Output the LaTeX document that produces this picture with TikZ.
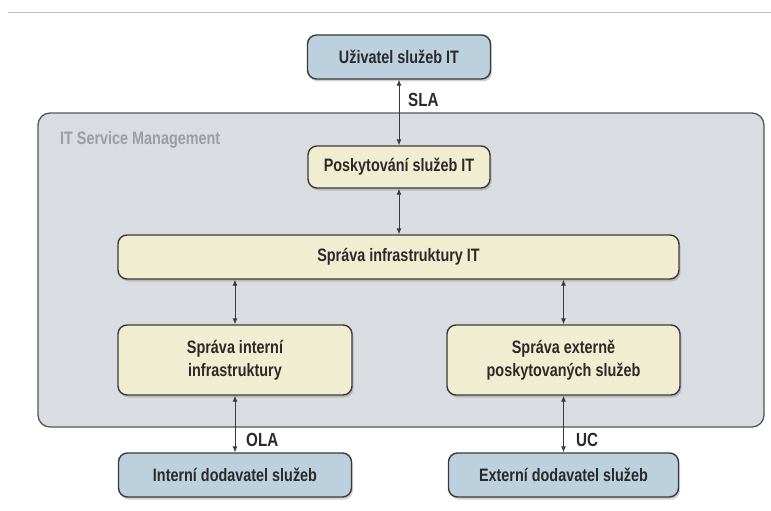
\documentclass[tikz,border=0pt]{standalone}
\usepackage{fontspec}
\setmainfont{Liberation Sans}[FakeStretch=0.8]
\usetikzlibrary{arrows.meta,shadows,calc}
\definecolor{panelfill}{HTML}{D9DCE1}
\definecolor{panelline}{HTML}{555555}
\definecolor{creamfill}{HTML}{F1EDD0}
\definecolor{bluefill}{HTML}{BCD0DD}
\definecolor{boxline}{HTML}{3A3A3A}
\definecolor{textc}{HTML}{2A2A2A}
\definecolor{titlec}{HTML}{9A9EA6}
\tikzset{
  box/.style={draw=boxline, line width=1.4pt, rounded corners=9pt, align=center,
    inner sep=0pt, text=textc, font=\bfseries\fontsize{18}{23}\selectfont,
    drop shadow={shadow xshift=1.5pt, shadow yshift=-2.5pt, opacity=0.35}},
  creambox/.style={box, fill=creamfill},
  bluebox/.style={box, fill=bluefill},
  link/.style={draw=boxline, line width=0.9pt, {Latex[length=6pt,width=5pt]}-{Latex[length=6pt,width=5pt]}},
  lbl/.style={anchor=west, inner sep=0pt, text=textc, font=\bfseries\fontsize{19}{21}\selectfont}
}
\begin{document}
\begin{tikzpicture}[x=1pt,y=-1pt]
\useasboundingbox (0,0) rectangle (771,511);
\fill[white] (0,0) rectangle (771,511);
\draw[color=black!25, line width=0.8pt] (8,12) -- (771,12);
% panel
\draw[fill=panelfill, draw=panelline, line width=1.3pt, rounded corners=12pt] (38,113) rectangle (764,427);
\node[anchor=west, inner sep=0pt, text=titlec, font=\bfseries\fontsize{18}{20}\selectfont] (title) at (60,140) {IT Service Management};
% nodes
\node[bluebox, minimum width=183pt, minimum height=44pt] (user) at (399,57) {Uživatel služeb IT};
\node[creambox, minimum width=182pt, minimum height=42pt] (posk) at (399,167) {Poskytování služeb IT};
\node[creambox, minimum width=561pt, minimum height=44pt] (infra) at (398.5,257) {Správa infrastruktury IT};
\node[creambox, minimum width=234pt, minimum height=70pt] (intl) at (235,360) {Správa interní\\infrastruktury};
\node[creambox, minimum width=233pt, minimum height=70pt] (extl) at (563.5,360) {Správa externě\\poskytovaných služeb};
\node[bluebox, minimum width=233pt, minimum height=44pt] (intd) at (235,475) {Interní dodavatel služeb};
\node[bluebox, minimum width=230pt, minimum height=44pt] (extd) at (563.5,475) {Externí dodavatel služeb};
% links
\draw[link] (user.south) -- (posk.north);
\draw[link] (posk.south) -- (posk.south |- infra.north);
\draw[link] (intl.north |- infra.south) -- (intl.north);
\draw[link] (extl.north |- infra.south) -- (extl.north);
\draw[link] (intl.south) -- (intl.south |- intd.north);
\draw[link] (extl.south) -- (extl.south |- extd.north);
% labels
\node[lbl] (sla) at (408,100) {SLA};
\node[lbl] (ola) at (246,440) {OLA};
\node[lbl] (uc) at (576,440) {UC};
\end{tikzpicture}
\end{document}
